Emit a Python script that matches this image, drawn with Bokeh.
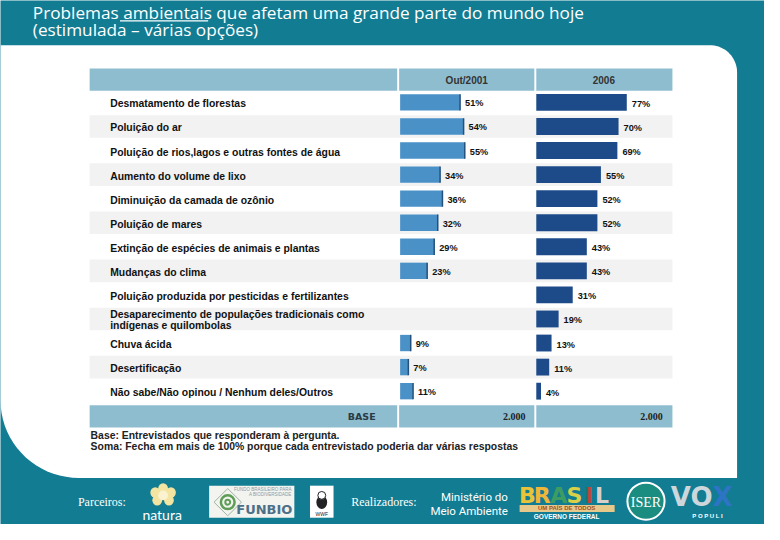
import numpy as np
from bokeh.plotting import figure
from bokeh.models import Range1d, ColumnDataSource
from bokeh.core.properties import value
from bokeh.embed import file_html
from bokeh.resources import INLINE

# ---------------- data ----------------
title_line1 = "Problemas ambientais que afetam uma grande parte do mundo hoje"
title_line2 = "(estimulada – várias opções)"
categories = [
    "Desmatamento de florestas",
    "Poluição do ar",
    "Poluição de rios,lagos e outras fontes de água",
    "Aumento do volume de lixo",
    "Diminuição da camada de ozônio",
    "Poluição de mares",
    "Extinção de espécies de animais e plantas",
    "Mudanças do clima",
    "Poluição produzida por pesticidas e fertilizantes",
    "Desaparecimento de populações tradicionais como\nindígenas e quilombolas",
    "Chuva ácida",
    "Desertificação",
    "Não sabe/Não opinou / Nenhum deles/Outros",
]
pct_2001 = [51, 54, 55, 34, 36, 32, 29, 23, None, None, 9, 7, 11]
pct_2006 = [77, 70, 69, 55, 52, 52, 43, 43, 31, 19, 13, 11, 4]
series_names = ["Out/2001", "2006"]
base_label = "BASE"
base_values = ["2.000", "2.000"]
notes = ["Base: Entrevistados que responderam à pergunta.",
         "Soma: Fecha em mais de 100% porque cada entrevistado poderia dar várias respostas"]

# ---------------- style ----------------
TEAL = "#127c92"
HEAD = "#8fbdd0"
GRAY_ROW = "#f2f2f2"
C01 = "#4a91c8"
C01_EDGE = "#24507c"
C06 = "#1d4b8a"
LBL_FONT = value("Liberation Sans")
SERIF = value("Liberation Serif")

W, H = 764, 524
# the whole 780x540 slide is drawn in its own pixel units, scaled into the figure
p = figure(width=W, height=H, x_range=Range1d(0, 780), y_range=Range1d(540, 0),
           output_backend="svg", toolbar_location=None, min_border=0,
           x_axis_location=None, y_axis_location=None,
           background_fill_color=TEAL, border_fill_color=TEAL,
           outline_line_color=None)
p.grid.visible = False

# column scales: 1.2 slide-px per percent
PX01, PX06, PPP = 408.0, 547.0, 1.2
p.extra_x_ranges = {
    "c01": Range1d((0 - PX01) / PPP, (780 - PX01) / PPP),
    "c06": Range1d((0 - PX06) / PPP, (780 - PX06) / PPP),
}
ROW0, ROWH = 105.0, 24.8
p.extra_y_ranges = {"rows": Range1d((540 - ROW0) / ROWH, (0 - ROW0) / ROWH)}

# ---------------- white panel ----------------
def rounded_panel(x0, x1, y0, y1, r_tr, r_bl):
    xs, ys = [x0], [y0]
    t = np.linspace(-np.pi / 2, 0, 20)
    xs += list(x1 - r_tr + r_tr * np.cos(t)); ys += list(y0 + r_tr + r_tr * np.sin(t))
    xs += [x1, x1]; ys += [y0 + r_tr, y1]
    t = np.linspace(np.pi / 2, np.pi, 20)
    xs += list(x0 + r_bl + r_bl * np.cos(t)); ys += list(y1 - r_bl + r_bl * np.sin(t))
    return xs, ys

px, py = rounded_panel(0, 752, 46, 492, 28, 80)
p.patch(px, py, fill_color="white", line_color=None)

# ---------------- title ----------------
p.text(x=[33, 33], y=[12, 30], text=[title_line1, title_line2], text_color="white",
       text_font=value("Open Sans"), text_font_size="17.2px", text_baseline="middle")
p.segment(x0=[122], y0=[21], x1=[212], y1=[21], line_color="white", line_width=1.2)

# ---------------- table ----------------
idx = list(range(len(categories)))
band_colors = ["white" if i % 2 == 0 else GRAY_ROW for i in idx]
p.hbar(y=idx, left=91, right=686, height=0.94, y_range_name="rows",
       fill_color=band_colors, line_color=None)

# header & base cells
cell_l = [91, 407, 547]
cell_r = [405, 545, 686]
p.quad(left=cell_l, right=cell_r, top=[70] * 3, bottom=[93] * 3, fill_color=HEAD, line_color=None)
p.quad(left=cell_l, right=cell_r, top=[417] * 3, bottom=[440] * 3, fill_color=HEAD, line_color=None)
p.text(x=[476, 616], y=[82, 82], text=series_names, text_align="center", text_baseline="middle",
       text_font=LBL_FONT, text_font_style="bold", text_font_size="10px", text_color="#333333")
p.text(x=[383], y=[429], text=[base_label], text_align="right", text_baseline="middle",
       text_font=value("DejaVu Sans"), text_font_style="bold", text_font_size="9.5px", text_color="#2a3a44")
p.text(x=[536, 676], y=[429, 429], text=base_values, text_align="right", text_baseline="middle",
       text_font=SERIF, text_font_style="bold", text_font_size="10px", text_color="#222222")

# category labels
p.text(x=[112] * len(idx), y=idx, text=categories, y_range_name="rows", y_offset=1.5,
       text_baseline="middle", text_font=LBL_FONT, text_font_style="bold",
       text_font_size="10.4px", text_color="#111111", text_line_height=1.0)

# bars 2001
i01 = [i for i in idx if pct_2001[i] is not None]
v01 = [pct_2001[i] for i in i01]
s01 = ColumnDataSource(dict(y=i01, v=v01, y0=[i - 0.34 for i in i01], y1=[i + 0.34 for i in i01],
                            lab=[f"{v}%" for v in v01]))
p.hbar(y="y", left=0, right="v", height=0.68, source=s01, x_range_name="c01", y_range_name="rows",
       fill_color=C01, line_color=None)
p.segment(x0="v", y0="y0", x1="v", y1="y1", source=s01, x_range_name="c01", y_range_name="rows",
          line_color=C01_EDGE, line_width=1.5)
p.text(x="v", y="y", text="lab", source=s01, x_range_name="c01", y_range_name="rows",
       x_offset=5, y_offset=1, text_baseline="middle", text_font=LBL_FONT, text_font_style="bold",
       text_font_size="9.2px", text_color="#111111")

# bars 2006
s06 = ColumnDataSource(dict(y=idx, v=pct_2006, lab=[f"{v}%" for v in pct_2006]))
p.hbar(y="y", left=0, right="v", height=0.7, source=s06, x_range_name="c06", y_range_name="rows",
       fill_color=C06, line_color=None)
p.text(x="v", y="y", text="lab", source=s06, x_range_name="c06", y_range_name="rows",
       x_offset=5, y_offset=1.5, text_baseline="middle", text_font=LBL_FONT, text_font_style="bold",
       text_font_size="9.2px", text_color="#111111")

# notes
p.text(x=[92, 92], y=[448, 460], text=notes, text_baseline="middle", text_font=LBL_FONT,
       text_font_style="bold", text_font_size="10.4px", text_color="#222222")

# ---------------- footer logos (approximations) ----------------
p.text(x=[79], y=[517], text=["Parceiros:"], text_baseline="middle", text_font=SERIF,
       text_font_size="12px", text_color="white")
# natura
p.ellipse(x=[158, 166, 174, 160, 172], y=[507, 503, 507, 515, 515], width=10, height=11,
          fill_color="#f3e4a2", line_color=None)
p.circle(x=[166], y=[510], radius=5, fill_color="#fbf3d0", line_color=None)
p.text(x=[165], y=[530], text=["natura"], text_align="center", text_baseline="middle",
       text_font=value("Lato"), text_font_size="14px", text_color="white")
# FUNBIO
p.quad(left=[213], right=[300], top=[500], bottom=[533], fill_color="#f3f3ef", line_color=None)
p.patch([218, 232, 246, 232], [517, 503, 517, 531], fill_color=None, line_color="#9fb3a0", line_width=1)
p.circle(x=[232], y=[517], radius=7, fill_color=None, line_color="#5f9e57", line_width=2.5)
p.circle(x=[232], y=[517], radius=2.5, fill_color=None, line_color="#5f9e57", line_width=2)
p.text(x=[298], y=[525], text=["FUNBIO"], text_align="right", text_baseline="middle",
       text_font=value("DejaVu Sans"), text_font_style="bold", text_font_size="13px", text_color="#4d7088")
p.text(x=[297, 297], y=[504, 509], text=["FUNDO BRASILEIRO PARA", "A BIODIVERSIDADE"],
       text_align="right", text_baseline="middle", text_font=LBL_FONT, text_font_size="4.5px",
       text_color="#8a9aa4")
# WWF
p.quad(left=[316], right=[340], top=[500], bottom=[533], fill_color="white", line_color=None)
p.ellipse(x=[328], y=[517], width=11, height=14, fill_color="#222222", line_color=None)
p.circle(x=[328], y=[510], radius=4, fill_color="white", line_color="#222222", line_width=1)
p.text(x=[328], y=[529], text=["WWF"], text_align="center", text_baseline="middle",
       text_font=LBL_FONT, text_font_size="5px", text_color="#222222")
p.text(x=[358], y=[517], text=["Realizadores:"], text_baseline="middle", text_font=SERIF,
       text_font_size="12px", text_color="white")
# Ministério
p.text(x=[518, 518], y=[512, 526], text=["Ministério do", "Meio Ambiente"], text_align="right",
       text_baseline="middle", text_font=value("Roboto"), text_font_size="11.5px", text_color="white")
# BRASIL
brasil_letters = ["B", "R", "A", "S", "I", "L"]
brasil_x = [538, 553, 570, 586, 601, 614]
brasil_colors = ["#e9c43a", "#f0b63a", "#3d9c62", "#d9d048", "#b8473a", "#d8cfc8"]
p.text(x=brasil_x, y=[510] * 6, text=brasil_letters, text_align="center", text_baseline="middle",
       text_font=value("DejaVu Sans"), text_font_style="bold", text_font_size="22px",
       text_color=brasil_colors)
p.quad(left=[530], right=[627], top=[520], bottom=[527], fill_color="#e6c88a", line_color=None)
p.text(x=[578], y=[523.5], text=["UM PAÍS DE TODOS"], text_align="center", text_baseline="middle",
       text_font=LBL_FONT, text_font_style="bold", text_font_size="6px", text_color="#a0521e")
p.text(x=[578], y=[532], text=["GOVERNO FEDERAL"], text_align="center", text_baseline="middle",
       text_font=LBL_FONT, text_font_style="bold", text_font_size="6.5px", text_color="white")
# ISER
p.circle(x=[659], y=[516], radius=19, fill_color="#1a8d80", line_color="white", line_width=2)
p.text(x=[659], y=[517], text=["ISER"], text_align="center", text_baseline="middle",
       text_font=SERIF, text_font_size="14px", text_color="white")
# VOX POPULI
p.text(x=[727], y=[512], text=["VO"], text_align="right", text_baseline="middle",
       text_font=value("DejaVu Sans"), text_font_style="bold", text_font_size="26px", text_color="#cdd6da")
p.text(x=[727], y=[512], text=["X"], text_baseline="middle", text_font=value("DejaVu Sans"),
       text_font_style="bold", text_font_size="26px", text_color="#2d74c4")
p.text(x=[722], y=[531], text=["P O P U L I"], text_align="center", text_baseline="middle",
       text_font=LBL_FONT, text_font_style="bold", text_font_size="6px", text_color="white")

open("out.html", "w").write(file_html(p, INLINE))
